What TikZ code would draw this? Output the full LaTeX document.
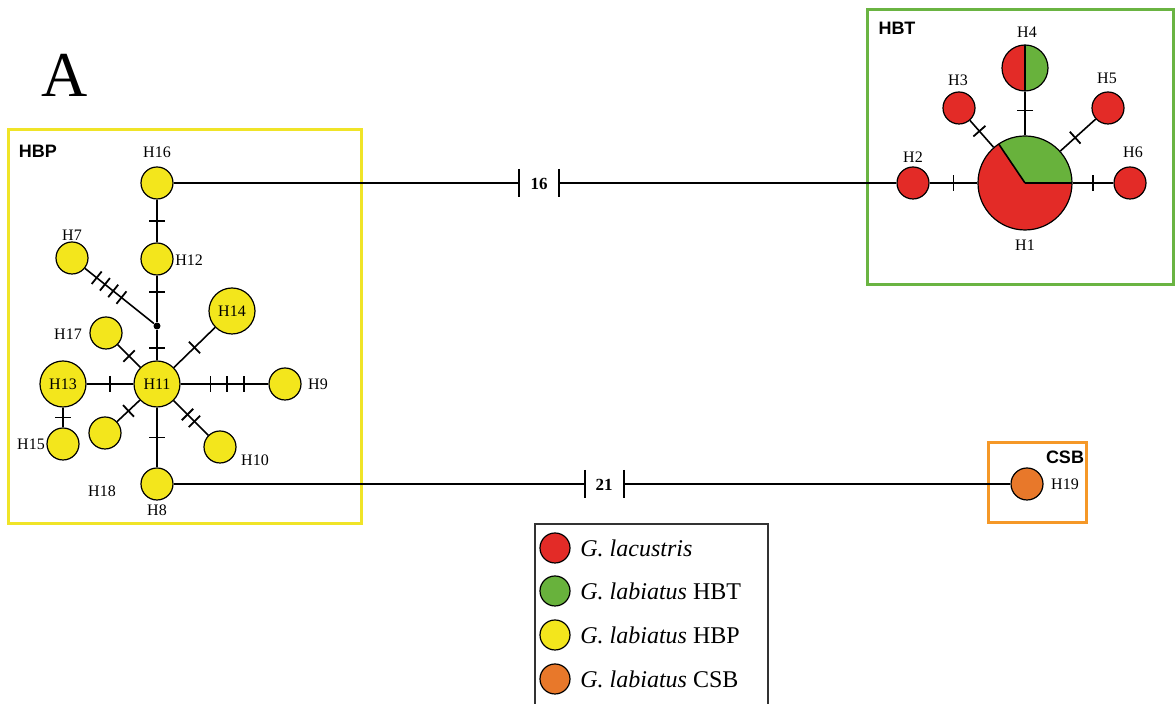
\documentclass[tikz,border=0pt]{standalone}
\usepackage{fontspec}
\setmainfont{Liberation Serif}
\newfontfamily\grpfont{Liberation Sans}
\usetikzlibrary{decorations.markings}

\definecolor{lacred}{RGB}{227,43,39}
\definecolor{hbtgreen}{RGB}{104,178,60}
\definecolor{hbpyellow}{RGB}{243,230,28}
\definecolor{csborange}{RGB}{232,120,42}
\definecolor{boxyellow}{RGB}{240,228,40}
\definecolor{boxgreen}{RGB}{106,180,66}
\definecolor{boxorange}{RGB}{245,152,40}

\tikzset{
  hap/.style={circle, draw, line width=0.6pt, inner sep=0pt, minimum size=16pt, font=\fontsize{8}{9}\selectfont},
  bighap/.style={hap, minimum size=23pt},
  hlab/.style={font=\fontsize{8}{9}\selectfont, inner sep=0pt},
  link/.style={line width=0.8pt},
  mut/.style={postaction={decorate, decoration={markings, mark=at position #1 with {\draw[line width=0.9pt] (0,-4pt) -- (0,4pt);}}}},
  grp/.style={font=\grpfont\bfseries\fontsize{9}{10}\selectfont},
  steps/.style={font=\bfseries\fontsize{8.5}{10}\selectfont},
  keytext/.style={anchor=west, inner sep=0pt, font=\fontsize{12}{14}\selectfont},
}

\begin{document}
\begin{tikzpicture}[x=0.5pt, y=0.5pt]
\useasboundingbox (0,0) rectangle (1175,704);
\fill[white] (0,0) rectangle (1175,704);

% Panel letter
\node[font=\fontsize{32}{34}\selectfont] (panel) at (65,629) {A};

% Group boxes
\draw[boxyellow, line width=1.5pt] (8,180) rectangle (361,574);
\draw[boxgreen, line width=1.5pt] (867,419) rectangle (1173,694);
\draw[boxorange, line width=1.5pt] (988,181) rectangle (1086,261);
\node[grp] (hbp) at (38,553) {HBP};
\node[grp] (hbt) at (897,676) {HBT};
\node[grp] (csb) at (1065,247) {CSB};

% HBP network
\node[bighap, fill=hbpyellow] (H11) at (157,320) {H11};
\node[hap, fill=hbpyellow] (H16) at (157,521) {};
\node[hap, fill=hbpyellow] (H12) at (157,445) {};
\node[circle, fill, inner sep=0pt, minimum size=3.5pt] (J) at (157,378) {};
\node[hap, fill=hbpyellow] (H7) at (72,446) {};
\node[bighap, fill=hbpyellow] (H14) at (232,393) {H14};
\node[hap, fill=hbpyellow] (H17) at (106,371) {};
\node[bighap, fill=hbpyellow] (H13) at (63,320) {H13};
\node[hap, fill=hbpyellow] (H9) at (285,320) {};
\node[hap, fill=hbpyellow] (H10) at (220,257) {};
\node[hap, fill=hbpyellow] (Hx) at (105,271) {};
\node[hap, fill=hbpyellow] (H15) at (63,260) {};
\node[hap, fill=hbpyellow] (H8) at (157,220) {};

\draw[link, mut=0.5] (H16) -- (H12);
\draw[link, mut=0.35] (H12) -- (J);
\draw[link, mut=0.6] (J) -- (H11);
\draw[link, mut=0.17, mut=0.29, mut=0.41, mut=0.53] (H7) -- (J);
\draw[link, mut=0.5] (H11) -- (H14);
\draw[link, mut=0.5] (H11) -- (H17);
\draw[link, mut=0.5] (H11) -- (H13);
\draw[link, mut=0.34, mut=0.53, mut=0.72] (H11) -- (H9);
\draw[link, mut=0.4, mut=0.6] (H11) -- (H10);
\draw[link, mut=0.5] (H11) -- (Hx);
\draw[link, mut=0.5] (H13) -- (H15);
\draw[link, mut=0.5] (H11) -- (H8);

\node[hlab] (l16) at (157,552) {H16};
\node[hlab, anchor=west] (l12) at (175,444) {H12};
\node[hlab] (l7) at (72,469) {H7};
\node[hlab] (l17) at (68,370) {H17};
\node[hlab] (l9) at (318,320) {H9};
\node[hlab] (l10) at (255,244) {H10};
\node[hlab] (l15) at (31,260) {H15};
\node[hlab] (l18) at (102,213) {H18};
\node[hlab] (l8) at (157,194) {H8};

% HBT network
\coordinate (c1) at (1025,521);
\fill[lacred] (c1) circle[radius=47];
\fill[hbtgreen] (c1) -- ++(0:47) arc[start angle=0, end angle=124, radius=47] -- cycle;
\draw[link] (c1) -- ++(0:47);
\draw[link] (c1) -- ++(124:47);
\node[hap, minimum size=47pt] (H1) at (c1) {};

\coordinate (c4) at (1025,636);
\fill[lacred] (c4) ++(0,23) arc[start angle=90, end angle=270, radius=23] -- cycle;
\fill[hbtgreen] (c4) ++(0,-23) arc[start angle=-90, end angle=90, radius=23] -- cycle;
\draw[link] (c4) ++(0,23) -- ++(0,-46);
\node[bighap] (H4) at (c4) {};

\node[hap, fill=lacred] (H2) at (913,521) {};
\node[hap, fill=lacred] (H3) at (959,596) {};
\node[hap, fill=lacred] (H5) at (1108,596) {};
\node[hap, fill=lacred] (H6) at (1130,521) {};

\draw[link, mut=0.5] (H2) -- (H1);
\draw[link, mut=0.6] (H1) -- (H3);
\draw[link, mut=0.57] (H1) -- (H4);
\draw[link, mut=0.42] (H1) -- (H5);
\draw[link, mut=0.5] (H1) -- (H6);

\node[hlab] (l1) at (1025,459) {H1};
\node[hlab] (l2) at (913,547) {H2};
\node[hlab] (l3) at (958,624) {H3};
\node[hlab] (l4) at (1027,672) {H4};
\node[hlab] (l5) at (1107,626) {H5};
\node[hlab] (l6) at (1133,552) {H6};

% CSB
\node[hap, fill=csborange] (H19) at (1027,220) {};
\node[hlab] (l19) at (1065,220) {H19};

% Long branches
\coordinate (m16a) at (519,521);
\coordinate (m16b) at (559,521);
\draw[link] (H16) -- (m16a);
\draw[link] (m16b) -- (H2);
\draw[link] (m16a) ++(0,14) -- ++(0,-28);
\draw[link] (m16b) ++(0,14) -- ++(0,-28);
\node[steps] (n16) at (539,520) {16};

\coordinate (m21a) at (585,220);
\coordinate (m21b) at (624,220);
\draw[link] (H8) -- (m21a);
\draw[link] (m21b) -- (H19);
\draw[link] (m21a) ++(0,14) -- ++(0,-28);
\draw[link] (m21b) ++(0,14) -- ++(0,-28);
\node[steps] (n21) at (604,219) {21};

% Legend
\draw[line width=0.7pt, black!80] (535,-10) rectangle (768,180);
\node[hap, fill=lacred, minimum size=15pt] (k1) at (555,156) {};
\node[hap, fill=hbtgreen, minimum size=15pt] (k2) at (555,113) {};
\node[hap, fill=hbpyellow, minimum size=15pt] (k3) at (555,69) {};
\node[hap, fill=csborange, minimum size=15pt] (k4) at (555,25) {};
\node[keytext] (t1) at (580,156) {\textit{G. lacustris}};
\node[keytext] (t2) at (580,113) {\textit{G. labiatus} HBT};
\node[keytext] (t3) at (580,69) {\textit{G. labiatus} HBP};
\node[keytext] (t4) at (580,25) {\textit{G. labiatus} CSB};
\end{tikzpicture}
\end{document}
